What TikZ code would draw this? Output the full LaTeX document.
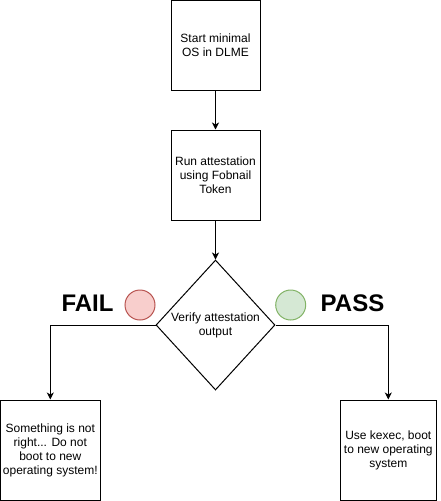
\documentclass[tikz,border=0pt]{standalone}
\usepackage{fontspec}
\setmainfont{Liberation Sans}
\usetikzlibrary{arrows.meta,shapes.geometric}
\definecolor{failfill}{HTML}{F8CECC}
\definecolor{faildraw}{HTML}{B85450}
\definecolor{passfill}{HTML}{D5E8D4}
\definecolor{passdraw}{HTML}{82B366}
\begin{document}
\begin{tikzpicture}[x=1pt,y=-1pt,
  box/.style={draw,line width=1pt,minimum width=89pt,minimum height=90pt,align=center,inner sep=0pt,font=\fontsize{12}{14}\selectfont},
  sidebox/.style={box,minimum width=100pt,minimum height=100pt},
  conn/.style={line width=1pt,-{Stealth[length=7pt,width=7pt,inset=2pt]}},
  big/.style={font=\fontsize{24}{28}\selectfont\bfseries},
  dot/.style={circle,line width=1pt,minimum size=30pt,inner sep=0pt}]
\useasboundingbox (0,0) rectangle (441,501);
\node[box] (start) at (215.5,45.5) {Start minimal\\OS in DLME};
\node[box] (run) at (215.5,175) {Run attestation\\using Fobnail\\Token};
\node[diamond,draw,line width=1pt,minimum width=119pt,minimum height=130pt,inner sep=0pt,aspect=0.915,align=center,font=\fontsize{12}{14}\selectfont] (verify) at (215.5,325) {Verify attestation\\output};
\node[sidebox] (fail) at (50.3,450) {Something is not\\right... Do not\\boot to new\\operating system!};
\node[box,minimum width=96pt,minimum height=100pt] (pass) at (388.3,450) {Use kexec, boot\\to new operating\\system};
\node[dot,fill=failfill,draw=faildraw] (fdot) at (140,305) {};
\node[dot,fill=passfill,draw=passdraw] (pdot) at (290.7,305) {};
\node[big] (failtxt) at (87.5,303) {FAIL};
\node[big] (passtxt) at (352.5,303) {PASS};
\coordinate (lc) at (50.3,325);
\coordinate (rc) at (388.3,325);
\draw[conn] (start) -- (run);
\draw[conn] (run) -- (verify.north);
\draw[conn] (verify.west) -- (lc) -- (fail.north);
\draw[conn] (verify.east) -- (rc) -- (pass.north);
\end{tikzpicture}
\end{document}
